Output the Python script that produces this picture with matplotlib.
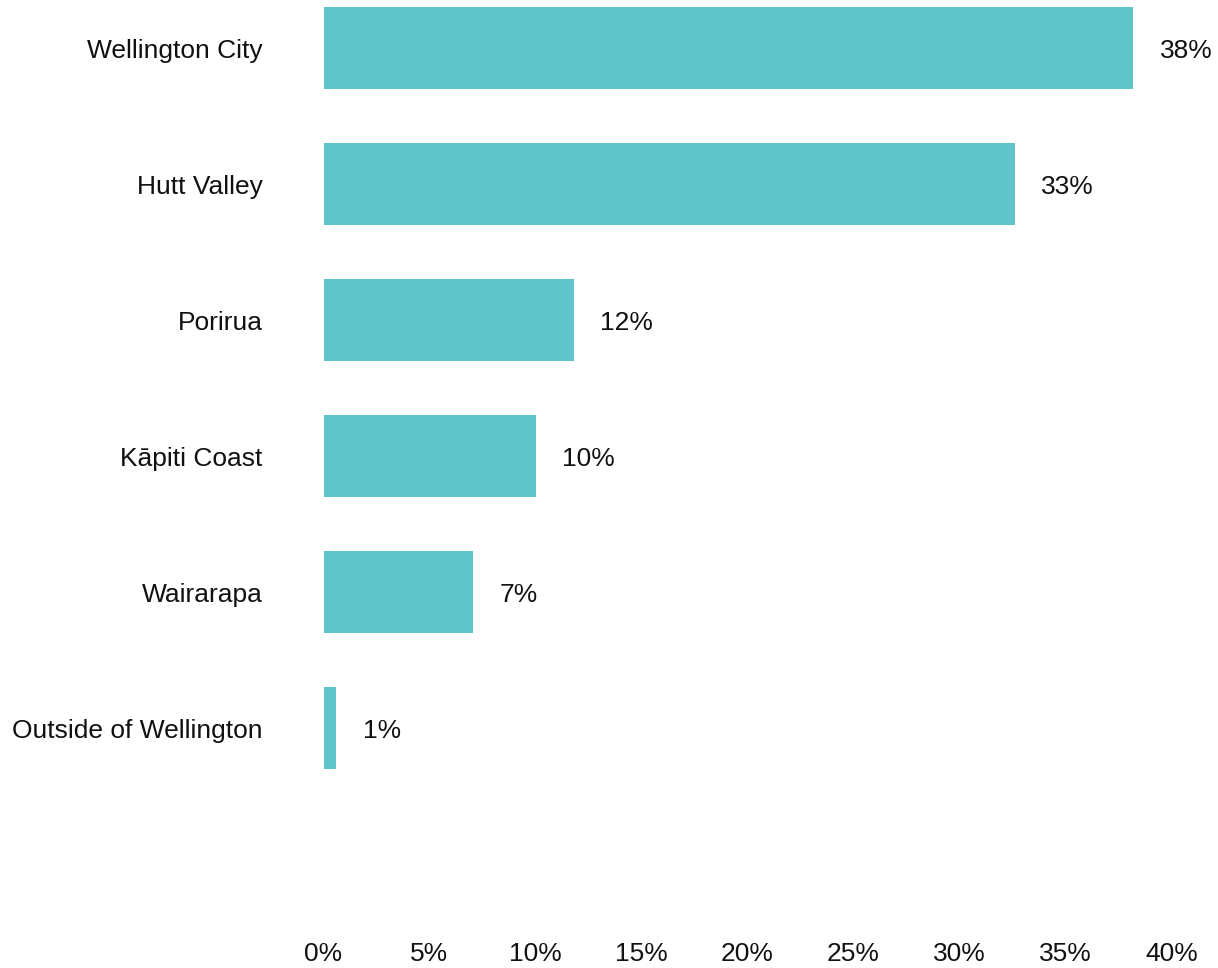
import matplotlib
matplotlib.use("Agg")
import matplotlib.pyplot as plt

categories = ["Wellington City", "Hutt Valley", "Porirua", "Kāpiti Coast", "Wairarapa", "Outside of Wellington"]
values = [38.2, 32.6, 11.8, 10.0, 7.05, 0.6]
labels = ["38%", "33%", "12%", "10%", "7%", "1%"]
xticks = [0, 5, 10, 15, 20, 25, 30, 35, 40]
xticklabels = ["0%", "5%", "10%", "15%", "20%", "25%", "30%", "35%", "40%"]

plt.rcParams['font.family'] = ['Liberation Sans', 'DejaVu Sans']
TXT = "#111111"

fig = plt.figure(figsize=(12.18, 9.68), dpi=100)
ax = fig.add_axes([323.5/1218, 1 - 935/968, (1171.5-323.5)/1218, 935/968])

ypos = list(range(len(categories)))
ax.barh(ypos, values, height=0.6, color="#5fc5ca")
for y, v, t in zip(ypos, values, labels):
    ax.annotate(t, (v, y), xytext=(19, 0), textcoords="offset points",
                va="center_baseline", ha="left", fontsize=19, color=TXT)

ax.set_xlim(0, 40)
ax.set_ylim(6.52, -0.353)
ax.set_yticks(ypos)
ax.set_yticklabels(categories, fontsize=19, color=TXT)
ax.set_xticks(xticks)
ax.set_xticklabels(xticklabels, fontsize=19, color=TXT)
ax.tick_params(axis="y", length=0, pad=44)
ax.tick_params(axis="x", length=0, pad=5)
for s in ax.spines.values():
    s.set_visible(False)

fig.savefig("out.png", dpi=100)
